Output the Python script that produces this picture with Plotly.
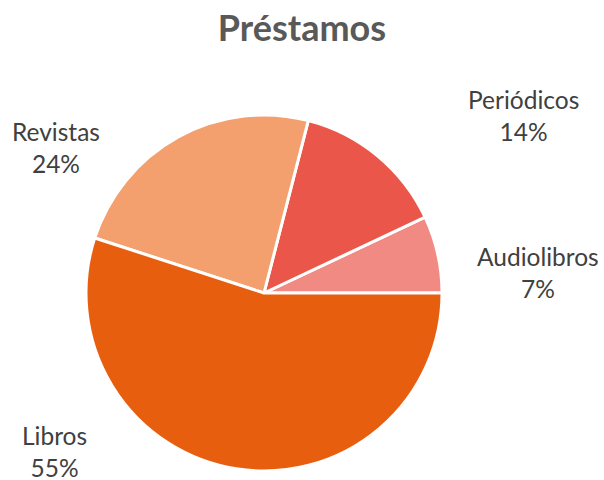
import plotly.graph_objects as go

categories = ["Audiolibros", "Periódicos", "Revistas", "Libros"]
values = [7, 14, 24, 55]
colors = ["#F08A82", "#EA574A", "#F3A06E", "#E85E0F"]
title_text = "Préstamos"
# label centers (page pixels) for the outside data labels
label_pos = {
    "Audiolibros": (538, 272),
    "Periódicos": (523, 115),
    "Revistas": (56, 147),
    "Libros": (55, 451),
}

W, H = 604, 480
cx, cy, r = 264, 293, 178

top, bottom = cy - r, cy + r
plot_h = bottom - top

total = sum(values)
# first slice starts at 3 o'clock and runs counterclockwise
rotation = 90 - 360 * values[0] / total

fig = go.Figure(go.Pie(
    labels=categories,
    values=values,
    sort=False,
    direction="counterclockwise",
    rotation=rotation,
    marker=dict(colors=colors, line=dict(color="white", width=3)),
    textinfo="none",
    showlegend=False,
    hoverinfo="label+percent",
    domain=dict(x=[(cx - r) / W, (cx + r) / W], y=[0, 1]),
))

for cat, v in zip(categories, values):
    px, py = label_pos[cat]
    fig.add_annotation(
        x=px / W, y=(bottom - py) / plot_h, xref="paper", yref="paper",
        text=f"{cat}<br>{round(100 * v / total)}%",
        showarrow=False, xanchor="center", yanchor="middle", align="center",
        font=dict(family="Lato, Open Sans, sans-serif", size=24.5, color="#404040"),
    )

fig.update_layout(
    width=W, height=H,
    margin=dict(l=0, r=0, t=top, b=H - bottom),
    paper_bgcolor="white",
    plot_bgcolor="white",
    title=dict(text="<b>" + title_text + "</b>", x=0.5, xanchor="center",
               y=1 - 28 / H, yanchor="middle",
               font=dict(family="Lato, Open Sans, sans-serif", size=36, color="#595959")),
)

fig.write_html(
    "out.html",
    config={"displayModeBar": False},
    post_script="document.body.style.margin='0px';document.body.style.overflow='hidden';",
)
